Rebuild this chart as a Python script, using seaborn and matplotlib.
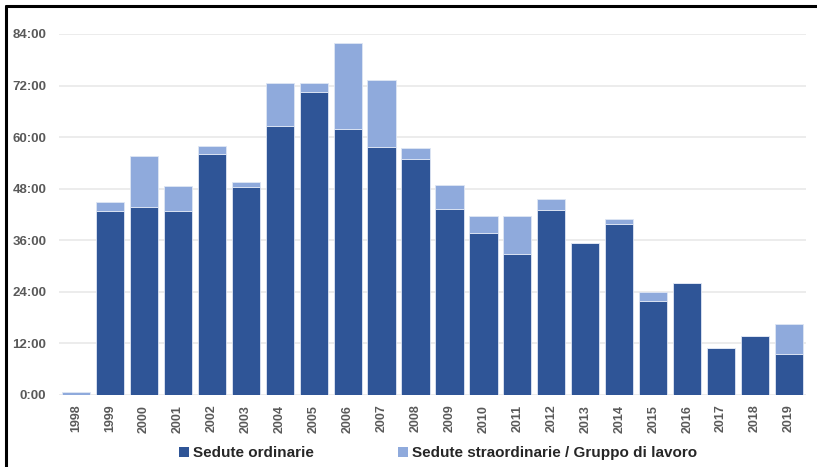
import matplotlib
matplotlib.use("Agg")
import matplotlib.pyplot as plt
from matplotlib.lines import Line2D
from matplotlib.patches import Patch
from matplotlib.ticker import FuncFormatter, MultipleLocator
import seaborn as sns
import pandas as pd

# Hours of meetings per year (decimal hours)
years = [str(y) for y in range(1998, 2020)]
ordinarie = [0.0, 42.7, 43.8, 42.9, 56.0, 48.5, 62.7, 70.4, 62.0, 57.8, 55.0,
             43.2, 37.8, 32.8, 43.0, 35.3, 39.9, 21.9, 26.1, 10.9, 13.8, 9.6]
straordinarie = [0.6, 2.1, 11.7, 5.7, 2.0, 1.1, 9.8, 2.3, 20.0, 15.6, 2.4,
                 5.7, 3.9, 8.9, 2.5, 0.0, 1.0, 2.1, 0.0, 0.0, 0.0, 7.0]
series_labels = ["Sedute ordinarie", "Sedute straordinarie / Gruppo di lavoro"]

dark = "#2f5597"
light = "#8faadc"

df = pd.DataFrame({"anno": years, "ord": ordinarie, "straord": straordinarie})

sns.set_theme(style="white")
plt.rcParams["font.family"] = ["Liberation Sans", "DejaVu Sans"]

fig = plt.figure(figsize=(8.17, 4.67), dpi=100)
ax = fig.add_axes([0.0722, 0.1542, 0.9143, 0.773])

sns.barplot(data=df, x="anno", y="ord", color=dark, saturation=1, width=0.83,
            edgecolor="#dfe6f4", linewidth=0.6, ax=ax, zorder=3)
sns.barplot(data=df, x="anno", y="straord", color=light, saturation=1, width=0.83,
            bottom=df["ord"].to_numpy(), edgecolor="#dfe6f4", linewidth=0.6,
            ax=ax, zorder=3)

ax.set_ylim(0, 84)
ax.set_xlim(-0.5, len(years) - 0.5)
ax.yaxis.set_major_locator(MultipleLocator(12))
ax.yaxis.set_major_formatter(FuncFormatter(lambda v, p: f"{int(round(v))}:00"))
ax.grid(axis="y", color="#ebebeb", linewidth=1.3, zorder=0)
ax.set_axisbelow(True)
for s in ax.spines.values():
    s.set_visible(False)
ax.set_xlabel("")
ax.set_ylabel("")
ax.tick_params(axis="y", length=0, pad=9, labelsize=9.5, labelcolor="#595959")
ax.tick_params(axis="x", length=0, pad=7, labelsize=9, labelcolor="#595959",
               labelrotation=90)
for t in ax.get_yticklabels() + ax.get_xticklabels():
    t.set_fontweight("bold")

handles = [Patch(facecolor=dark, edgecolor="none"),
           Patch(facecolor=light, edgecolor="none")]
fig.legend(handles, series_labels, loc="center", bbox_to_anchor=(0.536, 0.03),
           ncol=2, frameon=False, handlelength=0.65, handleheight=0.65,
           handletextpad=0.25, columnspacing=5.5,
           prop={"weight": "bold", "size": 11})

# Outer frame (left and top edges)
fig.add_artist(Line2D([0.0073, 0.0073], [0.0, 0.987], color="black",
                      linewidth=2.2, transform=fig.transFigure))
fig.add_artist(Line2D([0.0073, 1.0], [0.987, 0.987], color="black",
                      linewidth=2.2, transform=fig.transFigure))

fig.savefig("out.png", dpi=100)
